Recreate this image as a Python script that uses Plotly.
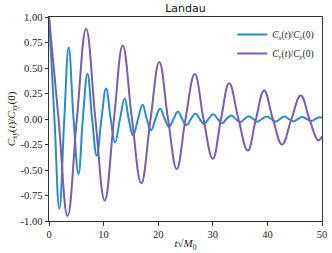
import plotly.graph_objects as go

# Readings from picture: extrema and zero crossings (t, value)
t_x = [0.0, 1.0, 1.9, 2.8, 3.6, 4.5, 5.4, 6.2, 7.05, 7.9, 8.75, 9.6, 10.45, 11.3, 12.1, 13.0,
       13.85, 14.6, 15.4, 16.3, 17.15, 17.9, 18.7, 19.5, 20.35, 21.2, 22.0, 22.8, 23.6, 24.4,
       25.2, 26.0, 26.8, 27.6, 28.4, 29.2, 30.1, 30.9, 31.7, 32.5, 33.4, 34.2, 35.0, 35.8,
       36.6, 37.4, 38.2, 39.0, 39.9, 40.7, 41.5, 42.3, 43.1, 43.9, 44.8, 45.6, 46.4, 47.2,
       48.0, 48.8, 49.6, 50.0]
c_x = [1.0, 0.0, -0.88, 0.0, 0.70, 0.0, -0.54, 0.0, 0.44, 0.0, -0.36, 0.0, 0.30, 0.0, -0.23, 0.0,
       0.20, 0.0, -0.16, 0.0, 0.14, 0.0, -0.11, 0.0, 0.10, 0.0, -0.075, 0.0, 0.07, 0.0,
       -0.06, 0.0, 0.055, 0.0, -0.05, 0.0, 0.046, 0.0, -0.042, 0.0, 0.035, 0.0, -0.03, 0.0,
       0.027, 0.0, -0.026, 0.0, 0.025, 0.0, -0.025, 0.0, 0.024, 0.0, -0.022, 0.0, 0.02, 0.0,
       -0.02, 0.0, 0.018, 0.012]

t_y = [0.0, 1.75, 3.4, 5.1, 6.8, 8.5, 10.2, 11.9, 13.5, 15.2, 16.9, 18.6, 20.2, 21.8, 23.4,
       25.0, 26.7, 28.3, 30.0, 31.5, 33.0, 34.7, 36.4, 37.9, 39.4, 41.0, 42.7, 44.4, 46.1,
       47.7, 49.3, 50.0]
c_y = [1.0, 0.0, -0.95, 0.0, 0.885, 0.0, -0.80, 0.0, 0.72, 0.0, -0.63, 0.0, 0.56, 0.0, -0.49,
       0.0, 0.44, 0.0, -0.39, 0.0, 0.35, 0.0, -0.31, 0.0, 0.28, 0.0, -0.25, 0.0, 0.23,
       0.0, -0.21, -0.17]

x_ticks = [0, 10, 20, 30, 40, 50]
y_ticks = [-1.0, -0.75, -0.5, -0.25, 0.0, 0.25, 0.5, 0.75, 1.0]

BLUE = "#2b8cc4"
PURPLE = "#7a5ea8"
SERIF = "Liberation Serif, DejaVu Serif, serif"

fig = go.Figure()
fig.add_trace(go.Scatter(x=t_x, y=c_x, mode="lines",
                         line=dict(color=BLUE, width=2, shape="spline", smoothing=1.2),
                         name="<i>C<sub>x</sub></i>(<i>t</i>)/<i>C<sub>x</sub></i>(0)"))
fig.add_trace(go.Scatter(x=t_y, y=c_y, mode="lines",
                         line=dict(color=PURPLE, width=2, shape="spline", smoothing=1.2),
                         name="<i>C<sub>y</sub></i>(<i>t</i>)/<i>C<sub>y</sub></i>(0)"))

axis_common = dict(showline=True, linecolor="#333", linewidth=1, mirror=True,
                   ticks="outside", ticklen=3.5, tickwidth=0.8, tickcolor="#333",
                   showgrid=False, zeroline=False, automargin=False,
                   tickfont=dict(family=SERIF, size=10.5, color="#222"))

fig.update_layout(
    width=332, height=253,
    margin=dict(l=49, r=10, t=17, b=32),
    plot_bgcolor="white", paper_bgcolor="white",
    title=dict(text="Landau", x=0.5585, xanchor="center", y=0.968, yanchor="middle",
               font=dict(family="DejaVu Sans, sans-serif", size=11, color="#111")),
    xaxis=dict(range=[0, 50], tickvals=x_ticks, ticktext=[str(v) for v in x_ticks],
               title=dict(text="<i>t</i>√<i>M</i><sub>0</sub>", standoff=0,
                          font=dict(family=SERIF, size=11, color="#222")),
               **axis_common),
    yaxis=dict(range=[-1.0, 1.0], tickvals=y_ticks, ticktext=[f"{v:.2f}" for v in y_ticks],
               title=dict(text="<i>C<sub>xy</sub></i>(<i>t</i>)/<i>C<sub>xy</sub></i>(0)", standoff=2,
                          font=dict(family=SERIF, size=11, color="#222")),
               **axis_common),
    legend=dict(x=0.99, y=0.985, xanchor="right", yanchor="top",
                bgcolor="rgba(255,255,255,0.8)", borderwidth=0,
                font=dict(family=SERIF, size=9.5, color="#222"),
                tracegroupgap=0, itemwidth=30),
    showlegend=True,
)

fig.write_html("out.html", config={"displayModeBar": False},
               post_script="document.body.style.margin='0';document.body.style.overflow='hidden';")
